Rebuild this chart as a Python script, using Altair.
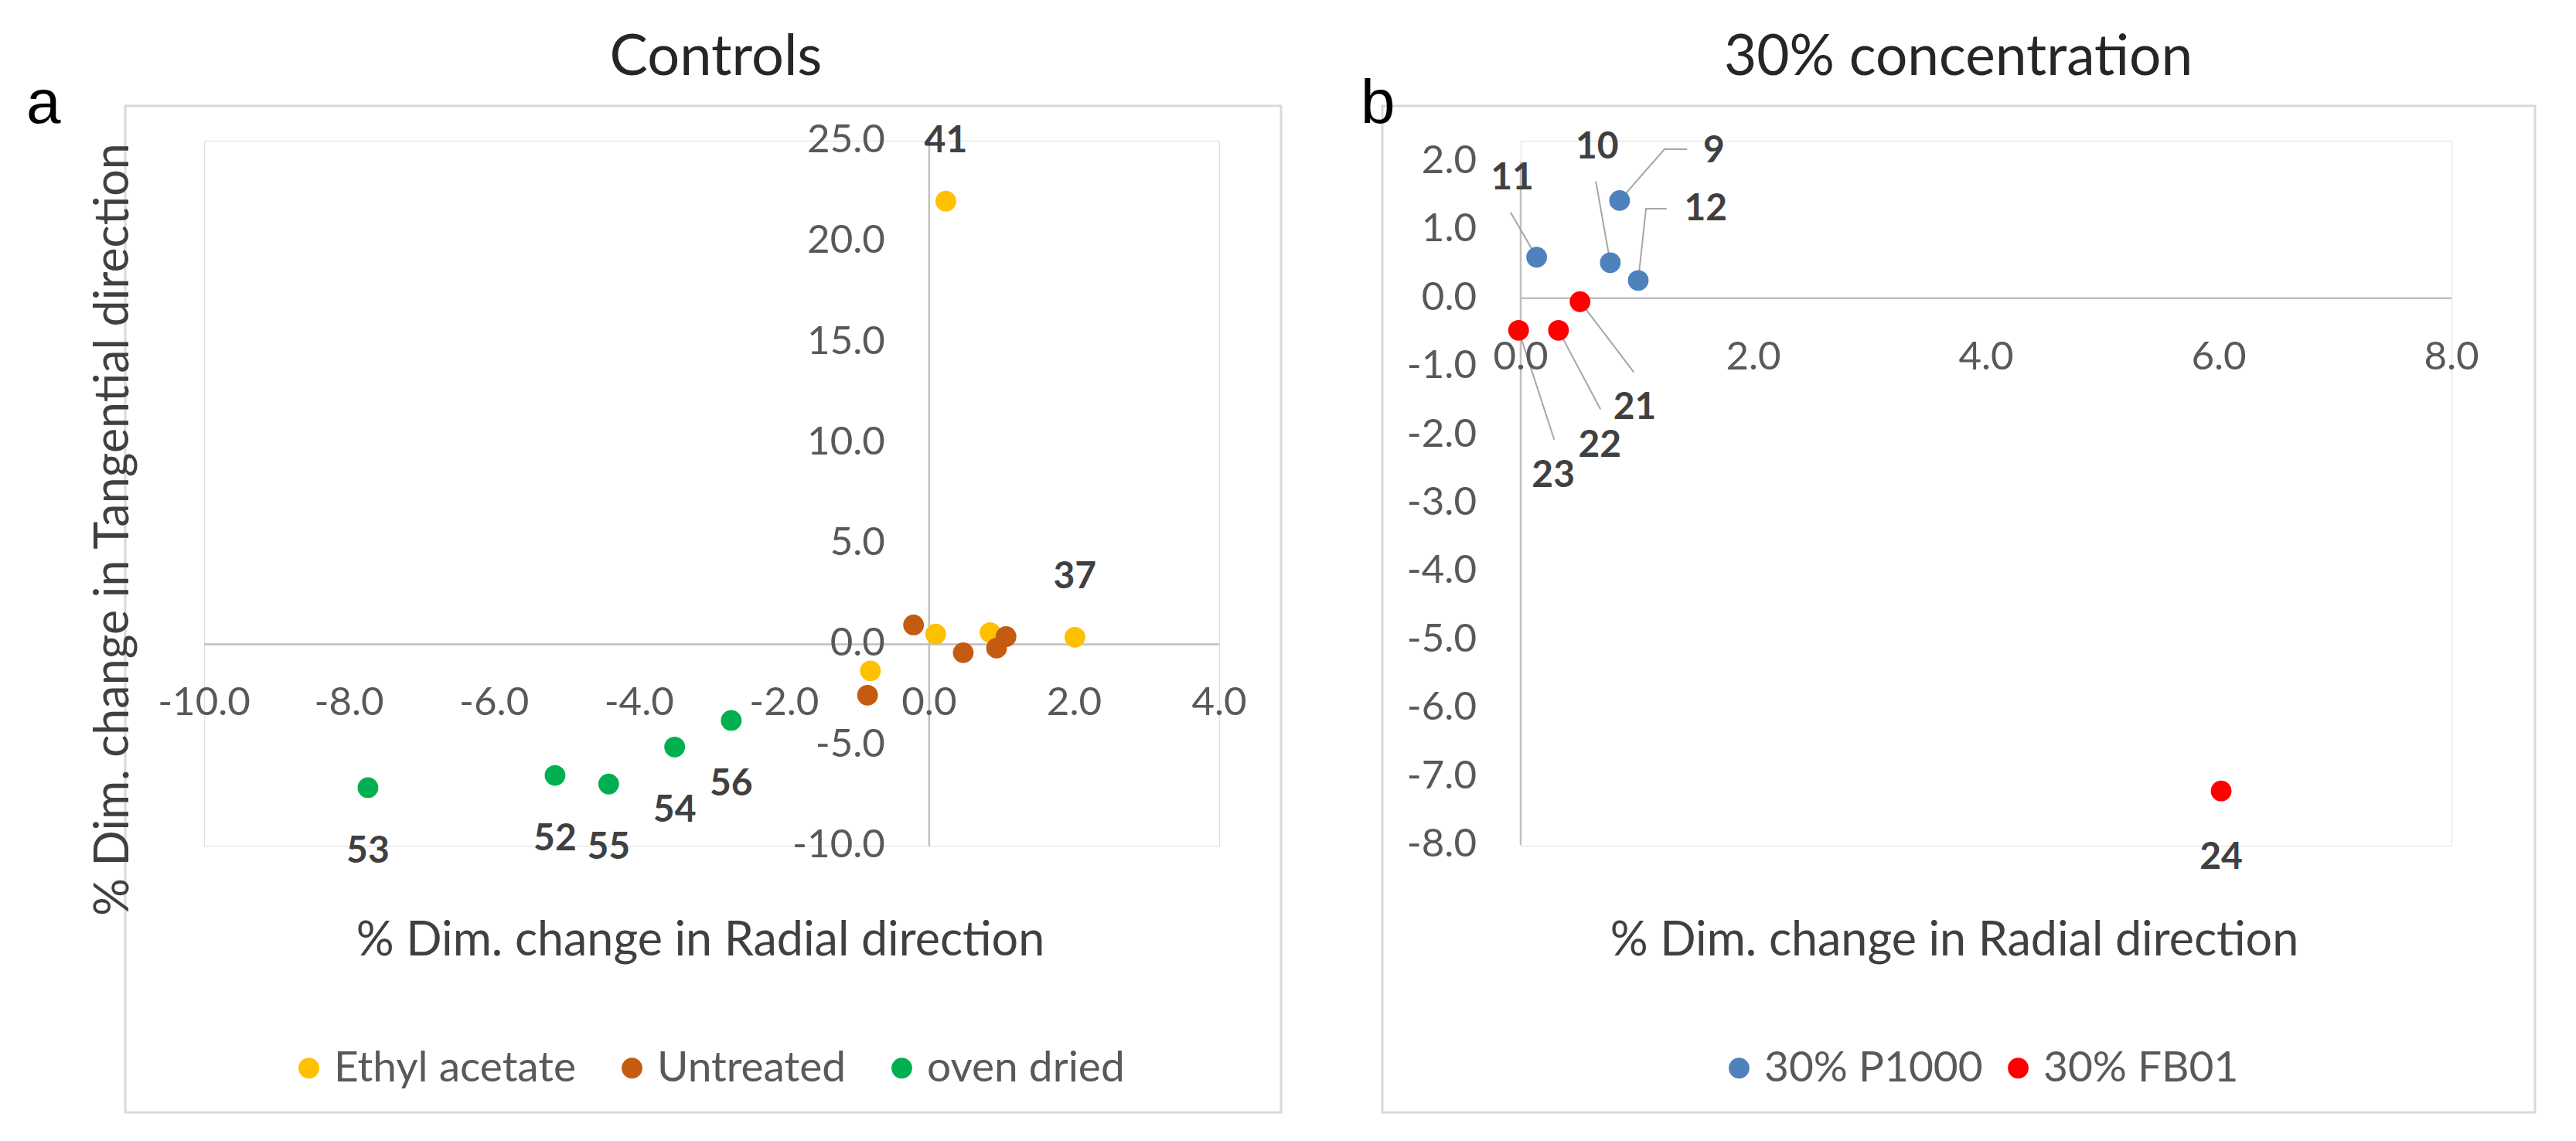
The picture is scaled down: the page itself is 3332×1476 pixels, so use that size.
import altair as alt
import pandas as pd

# ---------------- Panel a : Controls ----------------
ethyl_x = [0.23, 0.09, 0.84, 2.01, -0.81]
ethyl_y = [22.0, 0.51, 0.58, 0.35, -1.32]
ethyl_lbl = ["41", "", "", "37", ""]

untreated_x = [-0.215, 0.47, 0.93, 1.06, -0.85]
untreated_y = [0.96, -0.42, -0.19, 0.38, -2.53]
untreated_lbl = ["", "", "", "", ""]

oven_x = [-7.74, -5.16, -4.42, -3.51, -2.73]
oven_y = [-7.12, -6.51, -6.94, -5.10, -3.78]
oven_lbl = ["53", "52", "55", "54", "56"]

series_a = ["Ethyl acetate", "Untreated", "oven dried"]
colors_a = ["#FFC000", "#C55A11", "#00B050"]

xa_ticks = [-10, -8, -6, -4, -2, 0, 2, 4]
xa_labels = ["-10.0", "-8.0", "-6.0", "-4.0", "-2.0", "0.0", "2.0", "4.0"]
ya_ticks = [-10, -5, 0, 5, 10, 15, 20, 25]
ya_labels = ["-10.0", "-5.0", "0.0", "5.0", "10.0", "15.0", "20.0", "25.0"]

# ---------------- Panel b : 30% concentration ----------------
p1000_x = [0.85, 0.77, 0.137, 1.01]
p1000_y = [1.43, 0.52, 0.60, 0.26]
p1000_lbl = ["9", "10", "11", "12"]

fb01_x = [0.51, 0.325, -0.018, 6.02]
fb01_y = [-0.05, -0.47, -0.47, -7.21]
fb01_lbl = ["21", "22", "23", "24"]

series_b = ["30% P1000", "30% FB01"]
colors_b = ["#4F81BD", "#FF0000"]

# label anchors (data units) for labels with leader lines
lead_names = ["9", "10", "11", "12", "21", "22", "23"]
lead_lab_x = [1.66, 0.657, -0.073, 1.59, 0.98, 0.68, 0.28]
lead_lab_y = [2.15, 2.20, 1.75, 1.30, -1.61, -2.16, -2.60]
lead_start_x = [1.43, 0.646, -0.088, 1.254, 0.973, 0.686, 0.288]
lead_start_y = [2.18, 1.71, 1.26, 1.31, -1.085, -1.626, -2.07]
lead_elbow = {"9": (1.235, 2.18), "12": (1.077, 1.31)}

xb_ticks = [0, 2, 4, 6, 8]
xb_labels = ["0.0", "2.0", "4.0", "6.0", "8.0"]
yb_ticks = [-8, -7, -6, -5, -4, -3, -2, -1, 0, 1, 2]
yb_labels = ["-8.0", "-7.0", "-6.0", "-5.0", "-4.0", "-3.0", "-2.0", "-1.0", "0.0", "1.0", "2.0"]

titles = ["Controls", "30% concentration"]
letters = ["a", "b"]
x_title = "% Dim. change in Radial direction"
y_title = "% Dim. change in Tangential direction"

# ---------------- styling ----------------
FONT = "Lato"
GRID = "#d9d9d9"
ZERO = "#bfbfbf"
TICK_COL = "#595959"
LAB_COL = "#404040"
TICK_FS = 51
PT_SIZE = 720

W_A, H = 1313, 912
W_B = 1204


def one(v):
    return pd.DataFrame({"t": [v]})


def frame(x1, x2):
    return alt.Chart(one("")).mark_rect(fillOpacity=0, stroke=GRID, strokeWidth=3).encode(
        x=alt.value(x1), x2=alt.value(x2), y=alt.value(-45), y2=alt.value(1257))


def title_text(t, x, fs):
    return alt.Chart(one(t)).mark_text(font=FONT, fontSize=fs, color="#262626",
                                       align="center", baseline="alphabetic").encode(
        text="t:N", x=alt.value(x), y=alt.value(-85))


def letter_text(t, x):
    return alt.Chart(one(t)).mark_text(font="Liberation Sans", fontSize=80, color="#000000",
                                       align="left", baseline="alphabetic").encode(
        text="t:N", x=alt.value(x), y=alt.value(-23))


def axis_title_text(t, x, y, angle=0):
    return alt.Chart(one(t)).mark_text(font=FONT, fontSize=61, color=LAB_COL, align="center",
                                       baseline="alphabetic", angle=angle).encode(
        text="t:N", x=alt.value(x), y=alt.value(y))


def tick_layers(xs, xl, ys, yl, xsc, ysc):
    dx_ = pd.DataFrame({"v": xs, "lab": xl})
    dy_ = pd.DataFrame({"v": ys, "lab": yl})
    tx = alt.Chart(dx_).mark_text(font=FONT, fontSize=TICK_FS, color=TICK_COL, align="center",
                                  baseline="middle", dy=77).encode(
        x=alt.X("v:Q", scale=xsc, axis=None), y=alt.YDatum(0, scale=ysc, axis=None), text="lab:N")
    ty = alt.Chart(dy_).mark_text(font=FONT, fontSize=TICK_FS, color=TICK_COL, align="right",
                                  baseline="middle", dx=-57).encode(
        x=alt.XDatum(0, scale=xsc, axis=None), y=alt.Y("v:Q", scale=ysc, axis=None), text="lab:N")
    return tx, ty


grid_axis = dict(grid=True, labels=False, ticks=False, domain=False, gridColor=GRID,
                 gridWidth=2.5)


def legend(x, offset, pad):
    return alt.Legend(orient="none", legendX=x, legendY=1172, direction="horizontal",
                      title=None, labelFont=FONT, labelFontSize=55, labelColor=TICK_COL,
                      labelLimit=0, symbolType="circle", symbolSize=PT_SIZE,
                      symbolStrokeWidth=0, labelOffset=offset, columnPadding=pad, padding=0)


# ================= Panel a =================
xa = alt.Scale(domain=[-10, 4], nice=False, zero=False)
ya = alt.Scale(domain=[-10, 25], nice=False, zero=False)

df_a = pd.DataFrame({
    "x": ethyl_x + untreated_x + oven_x,
    "y": ethyl_y + untreated_y + oven_y,
    "s": [series_a[0]] * 5 + [series_a[1]] * 5 + [series_a[2]] * 5,
    "lbl": ethyl_lbl + untreated_lbl + oven_lbl,
    "side": ["above"] * 5 + ["none"] * 5 + ["below"] * 5,
})

pts_a = alt.Chart(df_a).mark_circle(size=PT_SIZE, opacity=1).encode(
    x=alt.X("x:Q", scale=xa, title=None, axis=alt.Axis(values=xa_ticks, **grid_axis)),
    y=alt.Y("y:Q", scale=ya, title=None, axis=alt.Axis(values=ya_ticks, **grid_axis)),
    color=alt.Color("s:N", scale=alt.Scale(domain=series_a, range=colors_a),
                    legend=legend(108, 5, 45)),
    order=alt.Order("o:Q"),
).transform_window(o="row_number()")

lab_style = dict(font=FONT, fontSize=48, fontWeight="bold", color=LAB_COL, align="center",
                 baseline="middle")
lab_above_a = alt.Chart(df_a).transform_filter(alt.datum.side == "above").mark_text(
    dy=-77, **lab_style).encode(x=alt.X("x:Q", scale=xa, axis=None),
                                y=alt.Y("y:Q", scale=ya, axis=None), text="lbl:N")
lab_below_a = alt.Chart(df_a).transform_filter(alt.datum.side == "below").mark_text(
    dy=83, **lab_style).encode(x=alt.X("x:Q", scale=xa, axis=None),
                               y=alt.Y("y:Q", scale=ya, axis=None), text="lbl:N")

zero_v_a = alt.Chart(one(0)).mark_rule(color=ZERO, strokeWidth=2.5).encode(
    x=alt.XDatum(0, scale=xa, axis=None))
zero_h_a = alt.Chart(one(0)).mark_rule(color=ZERO, strokeWidth=2.5).encode(
    y=alt.YDatum(0, scale=ya, axis=None))
tx_a, ty_a = tick_layers(xa_ticks, xa_labels, ya_ticks, ya_labels, xa, ya)

panel_a = alt.layer(
    frame(-102, 1393), zero_v_a, zero_h_a, pts_a, lab_above_a, lab_below_a, tx_a, ty_a,
    title_text(titles[0], 662, 74), letter_text(letters[0], -230),
    axis_title_text(x_title, 642, 1054), axis_title_text(y_title, -98, 503, 270),
).properties(width=W_A, height=H)

# ================= Panel b =================
xb = alt.Scale(domain=[0, 8], nice=False, zero=False)
yb = alt.Scale(domain=[-8, 2], nice=False, zero=False, range=[911, 27])

df_b = pd.DataFrame({
    "x": p1000_x + fb01_x,
    "y": p1000_y + fb01_y,
    "s": [series_b[0]] * 4 + [series_b[1]] * 4,
    "lbl": p1000_lbl + fb01_lbl,
})

pts_b = alt.Chart(df_b).mark_circle(size=PT_SIZE, opacity=1).encode(
    x=alt.X("x:Q", scale=xb, title=None, axis=alt.Axis(values=xb_ticks, **grid_axis)),
    y=alt.Y("y:Q", scale=yb, title=None, axis=alt.Axis(values=yb_ticks, **grid_axis)),
    color=alt.Color("s:N", scale=alt.Scale(domain=series_b, range=colors_b),
                    legend=legend(255, 5, 18)),
    order=alt.Order("o:Q"),
).transform_window(o="row_number()")

# leader lines
pt_lookup = dict(zip(df_b["lbl"], zip(df_b["x"], df_b["y"])))
rows = []
for n, sx, sy in zip(lead_names, lead_start_x, lead_start_y):
    rows.append({"n": n, "k": 0, "x": sx, "y": sy})
    if n in lead_elbow:
        ex, ey = lead_elbow[n]
        rows.append({"n": n, "k": 1, "x": ex, "y": ey})
    px, py = pt_lookup[n]
    rows.append({"n": n, "k": 2, "x": px, "y": py})
df_lead = pd.DataFrame(rows)

leaders = alt.Chart(df_lead).mark_line(color="#a6a6a6", strokeWidth=2).encode(
    x=alt.X("x:Q", scale=xb, axis=None), y=alt.Y("y:Q", scale=yb, axis=None),
    detail="n:N", order="k:Q")

df_lab_b = pd.DataFrame({"x": lead_lab_x, "y": lead_lab_y, "lbl": lead_names})
lab_lead_b = alt.Chart(df_lab_b).mark_text(**lab_style).encode(
    x=alt.X("x:Q", scale=xb, axis=None), y=alt.Y("y:Q", scale=yb, axis=None), text="lbl:N")
lab_below_b = alt.Chart(df_b).transform_filter(alt.datum.lbl == "24").mark_text(
    dy=87, **lab_style).encode(x=alt.X("x:Q", scale=xb, axis=None),
                               y=alt.Y("y:Q", scale=yb, axis=None), text="lbl:N")

zero_v_b = alt.Chart(one(0)).mark_rule(color=ZERO, strokeWidth=2.5).encode(
    x=alt.XDatum(0, scale=xb, axis=None), y=alt.YDatum(2, scale=yb, axis=None),
    y2=alt.Y2Datum(-8))
zero_h_b = alt.Chart(one(0)).mark_rule(color=ZERO, strokeWidth=2.5).encode(
    y=alt.YDatum(0, scale=yb, axis=None))
tx_b, ty_b = tick_layers(xb_ticks, xb_labels, yb_ticks, yb_labels, xb, yb)

panel_b = alt.layer(
    frame(-179, 1312), zero_v_b, zero_h_b, leaders, pts_b, lab_lead_b, lab_below_b, tx_b, ty_b,
    title_text(titles[1], 566, 73), letter_text(letters[1], -207),
    axis_title_text(x_title, 561, 1054),
).properties(width=W_B, height=H)

chart = alt.hconcat(panel_a, panel_b, spacing=390, bounds="flush").resolve_scale(
    x="independent", y="independent", color="independent"
).properties(
    padding={"left": 25, "top": 29, "right": 10, "bottom": 10}
).configure_view(stroke="transparent").configure(font=FONT)

chart.save("out.html", embed_options={"renderer": "svg", "actions": False})
